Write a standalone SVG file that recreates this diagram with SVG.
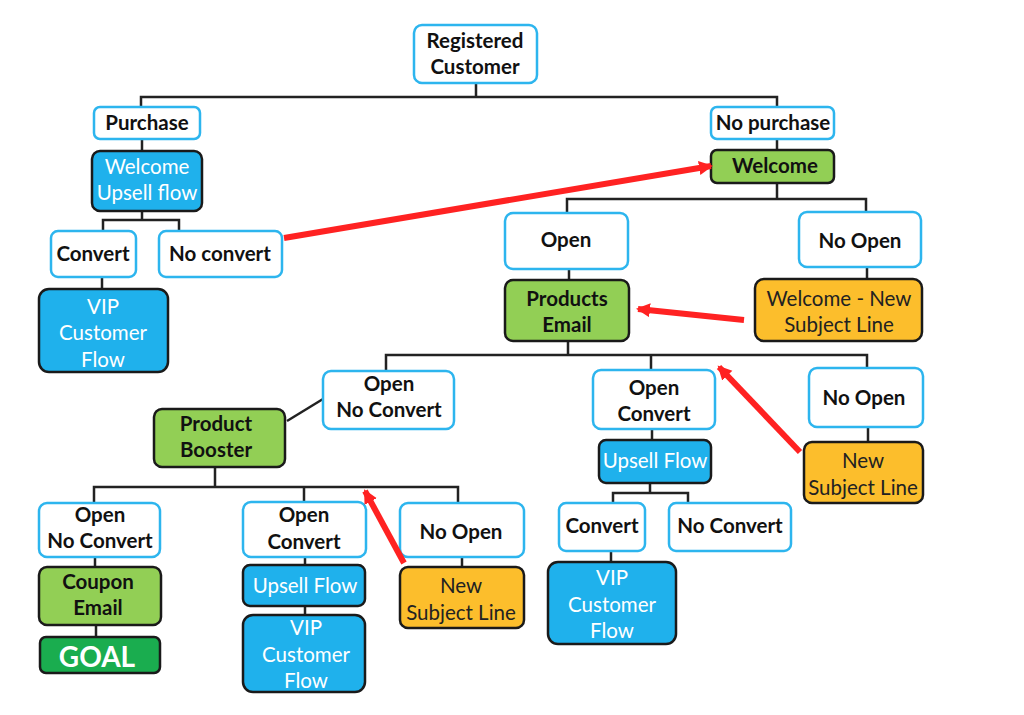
<svg xmlns="http://www.w3.org/2000/svg" width="1024" height="715" viewBox="0 0 1024 715">
<style>
.w{fill:#fff;stroke:#2DB5EE;stroke-width:2.5}
.b{fill:#1FB1EC;stroke:#1a1a1a;stroke-width:2.5}
.g{fill:#92CF55;stroke:#1a1a1a;stroke-width:2.5}
.o{fill:#FCBE2C;stroke:#1a1a1a;stroke-width:2.5}
.gg{fill:#1AAD4F;stroke:#1a1a1a;stroke-width:2.5}
text{font-family:Lato,"Open Sans","Liberation Sans",sans-serif;font-size:20.5px;text-anchor:middle}
.tb{font-weight:bold;fill:#111}
.tw{fill:#fff}
.to{fill:#222}
.goal{font-weight:bold;fill:#fff;font-size:28px}
#conn path{fill:none;stroke:#222;stroke-width:2.5}
#red line{stroke:#FF2222;stroke-width:6;marker-end:url(#ah)}
</style>
<defs>
<marker id="ah" markerUnits="userSpaceOnUse" markerWidth="16" markerHeight="16" refX="12" refY="8" orient="auto">
<path d="M0,1 L14,8 L0,15 Z" fill="#FF2222"/>
</marker>
</defs>
<rect width="1024" height="715" fill="#fff"/>
<g id="conn">
<path d="M476,83 V97 M141,107 V97 H777 V107"/>
<path d="M142,139 V151"/>
<path d="M142,211 V220 M103,232 V220 H179 V232"/>
<path d="M102,277 V289"/>
<path d="M777,139 V151"/>
<path d="M777,183 V199 M567,213 V199 H866 V212"/>
<path d="M569,269 V280"/>
<path d="M867,267 V279"/>
<path d="M568,341 V355 M386,371 V355 H867 V368 M651,355 V370"/>
<path d="M323,399 L287,421"/>
<path d="M215,467 V487 M94,503 V487 H458 V503 M304,487 V502"/>
<path d="M95,557 V567"/>
<path d="M96,625 V637"/>
<path d="M305,557 V565"/>
<path d="M305,606 V615"/>
<path d="M462,557 V567"/>
<path d="M652,429 V440"/>
<path d="M650,483 V493 M613,503 V493 H688 V503"/>
<path d="M611,551 V562"/>
<path d="M868,427 V442"/>
</g>
<g id="n-registered"><rect class="w" x="414" y="25" width="123" height="58" rx="8"/><text class="tb" x="475" y="48">Registered</text><text class="tb" x="475" y="74">Customer</text></g>
<g id="n-purchase"><rect class="w" x="94" y="107" width="106" height="32" rx="6"/><text class="tb" x="147" y="130">Purchase</text></g>
<g id="n-welcome-upsell"><rect class="b" x="92" y="151" width="110" height="60" rx="8"/><text class="tw" x="147" y="174">Welcome</text><text class="tw" x="147" y="200">Upsell flow</text></g>
<g id="n-convert1"><rect class="w" x="51" y="231" width="85" height="46" rx="7"/><text class="tb" x="93" y="261">Convert</text></g>
<g id="n-noconvert1"><rect class="w" x="159" y="231" width="123" height="46" rx="7"/><text class="tb" x="220" y="261">No convert</text></g>
<g id="n-vip1"><rect class="b" x="39" y="289" width="129" height="83" rx="10"/><text class="tw" x="103" y="314">VIP</text><text class="tw" x="103" y="340">Customer</text><text class="tw" x="103" y="367">Flow</text></g>
<g id="n-nopurchase"><rect class="w" x="711" y="107" width="123" height="32" rx="6"/><text class="tb" x="773" y="130">No purchase</text></g>
<g id="n-welcome"><rect class="g" x="711" y="150" width="123" height="33" rx="6"/><text class="tb" x="775" y="173">Welcome</text></g>
<g id="n-open1"><rect class="w" x="505" y="213" width="123" height="56" rx="8"/><text class="tb" x="566" y="247">Open</text></g>
<g id="n-noopen1"><rect class="w" x="799" y="212" width="122" height="55" rx="8"/><text class="tb" x="860" y="248">No Open</text></g>
<g id="n-products"><rect class="g" x="505" y="280" width="124" height="61" rx="8"/><text class="tb" x="567" y="306">Products</text><text class="tb" x="567" y="332">Email</text></g>
<g id="n-welcome-new"><rect class="o" x="755" y="279" width="167" height="62" rx="9"/><text class="to" x="839" y="306">Welcome - New</text><text class="to" x="839" y="332">Subject Line</text></g>
<g id="n-open-noconv1"><rect class="w" x="323" y="371" width="131" height="58" rx="8"/><text class="tb" x="389" y="391">Open</text><text class="tb" x="389" y="417">No Convert</text></g>
<g id="n-booster"><rect class="g" x="154" y="409" width="131" height="58" rx="8"/><text class="tb" x="216" y="431">Product</text><text class="tb" x="216" y="457">Booster</text></g>
<g id="n-open-noconv2"><rect class="w" x="39" y="503" width="121" height="54" rx="8"/><text class="tb" x="100" y="522">Open</text><text class="tb" x="100" y="548">No Convert</text></g>
<g id="n-coupon"><rect class="g" x="39" y="567" width="122" height="58" rx="8"/><text class="tb" x="98" y="589">Coupon</text><text class="tb" x="98" y="615">Email</text></g>
<g id="n-goal"><rect class="gg" x="40" y="637" width="120" height="36" rx="6"/><text class="goal" x="97" y="667">GOAL</text></g>
<g id="n-open-conv1"><rect class="w" x="243" y="502" width="123" height="55" rx="8"/><text class="tb" x="304" y="522">Open</text><text class="tb" x="304" y="549">Convert</text></g>
<g id="n-upsell1"><rect class="b" x="243" y="565" width="122" height="41" rx="7"/><text class="tw" x="305" y="593">Upsell Flow</text></g>
<g id="n-vip2"><rect class="b" x="243" y="615" width="122" height="77" rx="10"/><text class="tw" x="306" y="635">VIP</text><text class="tw" x="306" y="662">Customer</text><text class="tw" x="306" y="688">Flow</text></g>
<g id="n-noopen2"><rect class="w" x="400" y="503" width="124" height="54" rx="8"/><text class="tb" x="461" y="539">No Open</text></g>
<g id="n-newsubj1"><rect class="o" x="400" y="567" width="124" height="61" rx="8"/><text class="to" x="461" y="593">New</text><text class="to" x="461" y="620">Subject Line</text></g>
<g id="n-open-conv2"><rect class="w" x="593" y="370" width="122" height="59" rx="8"/><text class="tb" x="654" y="395">Open</text><text class="tb" x="654" y="421">Convert</text></g>
<g id="n-upsell2"><rect class="b" x="599" y="440" width="112" height="43" rx="7"/><text class="tw" x="655" y="468">Upsell Flow</text></g>
<g id="n-convert2"><rect class="w" x="559" y="503" width="86" height="48" rx="7"/><text class="tb" x="602" y="533">Convert</text></g>
<g id="n-noconvert2"><rect class="w" x="669" y="503" width="122" height="48" rx="7"/><text class="tb" x="730" y="533">No Convert</text></g>
<g id="n-vip3"><rect class="b" x="548" y="562" width="128" height="82" rx="10"/><text class="tw" x="612" y="585">VIP</text><text class="tw" x="612" y="612">Customer</text><text class="tw" x="612" y="638">Flow</text></g>
<g id="n-noopen3"><rect class="w" x="809" y="368" width="114" height="59" rx="8"/><text class="tb" x="864" y="405">No Open</text></g>
<g id="n-newsubj2"><rect class="o" x="804" y="442" width="119" height="61" rx="8"/><text class="to" x="863" y="468">New</text><text class="to" x="863" y="495">Subject Line</text></g>
<g id="red">
<line x1="284" y1="238" x2="711" y2="166"/>
<line x1="744" y1="320" x2="638" y2="309"/>
<line x1="800" y1="452" x2="719" y2="367"/>
<line x1="404" y1="563" x2="365" y2="491"/>
</g>
</svg>
